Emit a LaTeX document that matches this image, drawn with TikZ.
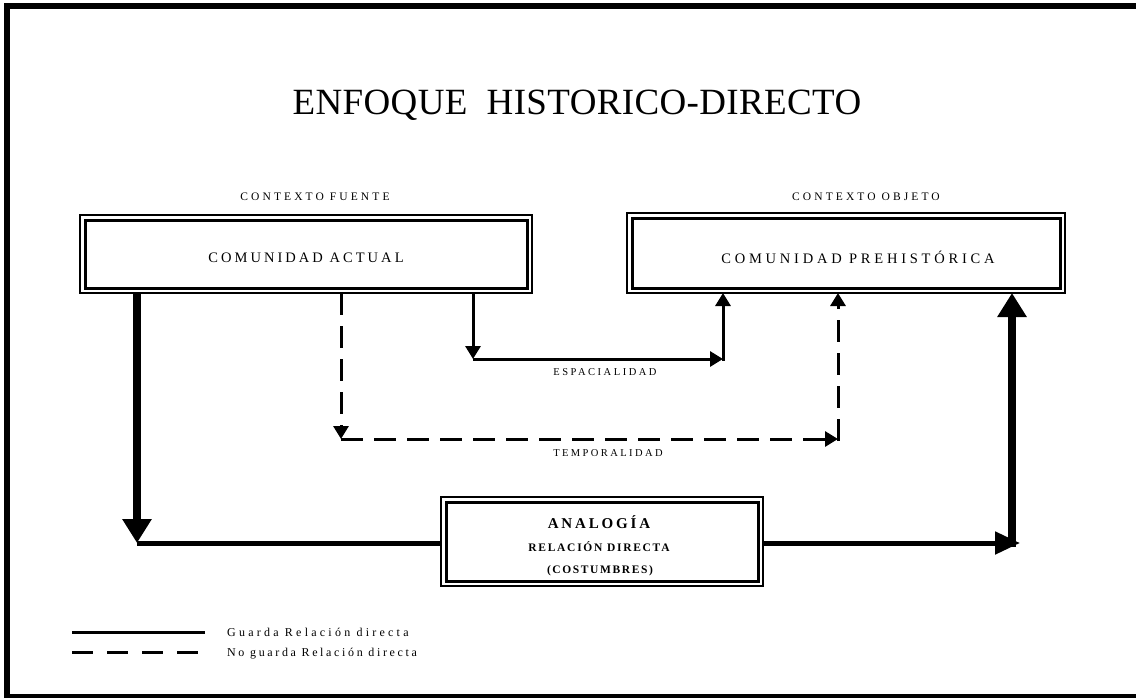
\documentclass[tikz,border=0pt]{standalone}
\usepackage{fontspec}
\setmainfont{Liberation Serif}
\usetikzlibrary{arrows.meta}
\newcommand\lsp[1]{\addfontfeature{LetterSpace=#1}}
\begin{document}
\begin{tikzpicture}[x=1pt,y=-1pt,
  outerbox/.style={draw, line width=1.2pt, inner sep=0pt, outer sep=0pt},
  innerbox/.style={draw, line width=3pt, inner sep=0pt},
  lbl/.style={inner sep=0pt, anchor=base},
  solidarr/.style={line width=3pt, -{Triangle[length=13pt,width=15pt]}},
  dasharr/.style={line width=3pt, dash pattern=on 22pt off 11pt, -{Triangle[length=13pt,width=15pt]}},
  bigarr/.style={line width=8pt, -{Triangle[length=24pt,width=28pt]}},
  hbigarr/.style={line width=5pt, -{Triangle[length=25pt,width=22pt]}},
  bigline/.style={line width=5pt}]
\useasboundingbox (0,0) rectangle (1136,697);
% frame
\draw[line width=6pt] (1150,6) -- (7,6) -- (7,697) -- (1150,697);
% title
\node[lbl] (title) at (577,114) {\fontsize{37}{40}\selectfont\lsp{1}ENFOQUE\ \ HISTORICO-DIRECTO};
% context labels
\node[lbl] (cf) at (315,200) {\fontsize{11.5}{13}\selectfont\lsp{27}CONTEXTO FUENTE};
\node[lbl] (co) at (866,200) {\fontsize{11.5}{13}\selectfont\lsp{27}CONTEXTO OBJETO};
% boxes
\node[outerbox, minimum width=452pt, minimum height=78pt] (b1) at (306,254) {};
\node[innerbox, minimum width=442pt, minimum height=68pt] (b1i) at (b1.center) {};
\node[lbl] (t1) at (306,262) {\fontsize{14.5}{16}\selectfont\lsp{21}COMUNIDAD ACTUAL};
\node[outerbox, minimum width=438pt, minimum height=80pt] (b2) at (846,253) {};
\node[innerbox, minimum width=428pt, minimum height=70pt] (b2i) at (b2.center) {};
\node[lbl] (t2) at (858,263) {\fontsize{14.5}{16}\selectfont\lsp{26}COMUNIDAD PREHISTÓRICA};
\node[outerbox, minimum width=322pt, minimum height=89pt] (b3) at (602,541.5) {};
\node[innerbox, minimum width=312pt, minimum height=79pt] (b3i) at (b3.center) {};
\node[lbl] (t3a) at (599,528) {\fontsize{15}{17}\selectfont\bfseries\lsp{19}ANALOGÍA};
\node[lbl] (t3b) at (599,551) {\fontsize{11.5}{13}\selectfont\bfseries\lsp{15}RELACIÓN DIRECTA};
\node[lbl] (t3c) at (600,573) {\fontsize{11.5}{13}\selectfont\bfseries\lsp{14}(COSTUMBRES)};
% coordinates
\coordinate (p1) at (137,543);
\coordinate (p2) at (1020,543);
\coordinate (p2b) at (1012,547);
\coordinate (e1) at (473,359);
\coordinate (e2) at (723,359);
\coordinate (d1) at (341,439);
\coordinate (d2) at (838,439);
% analogy path
\draw[bigarr] (b1.south -| p1) -- (p1);
\draw[bigline] (p1) -- (b3.west |- p1);
\draw[hbigarr] (b3.east |- p2) -- (p2);
\draw[bigarr] (p2b) -- (b2.south -| p2b);
% espacialidad
\draw[solidarr] (b1.south -| e1) -- (e1);
\draw[solidarr] (e1) -- (e2);
\draw[solidarr] ([yshift=-1.5pt]e2) -- (b2.south -| e2);
\node[lbl] (esp) at (605,375) {\fontsize{10.5}{12}\selectfont\lsp{24}ESPACIALIDAD};
% temporalidad
\draw[dasharr] (b1.south -| d1) -- (d1);
\draw[dasharr] (d1) -- (d2);
\draw[dasharr] ([yshift=-1.5pt]d2) -- (b2.south -| d2);
\node[lbl] (tem) at (608,456) {\fontsize{10.5}{12}\selectfont\lsp{23}TEMPORALIDAD};
% legend
\coordinate (l1a) at (72,632);
\coordinate (l1b) at (205,632);
\coordinate (l2a) at (72,652);
\coordinate (l2b) at (205,652);
\draw[line width=3pt] (l1a) -- (l1b);
\draw[line width=3pt, dash pattern=on 21pt off 14pt] (l2a) -- (l2b);
\node[inner sep=0pt, anchor=base west] (g1) at (227,636) {\fontsize{12}{14}\selectfont\lsp{27}Guarda Relación directa};
\node[inner sep=0pt, anchor=base west] (g2) at (227,656) {\fontsize{12}{14}\selectfont\lsp{22}No guarda Relación directa};
\end{tikzpicture}
\end{document}
